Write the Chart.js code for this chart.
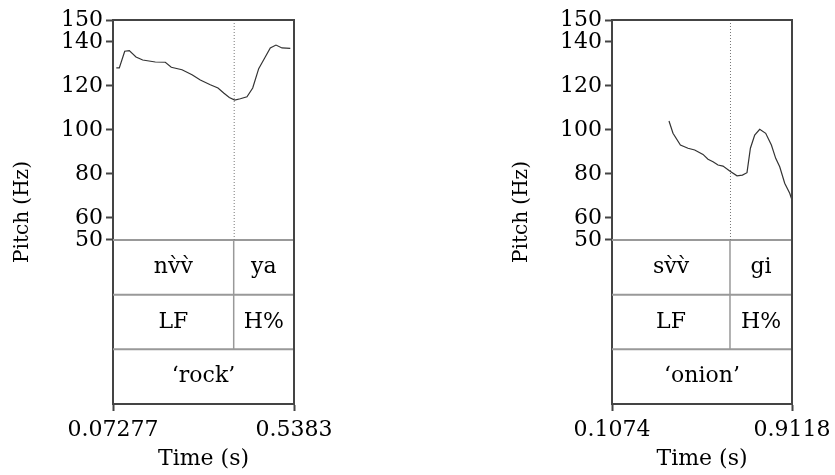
<!DOCTYPE html>
<html><head><meta charset="utf-8">
<script src="https://cdn.jsdelivr.net/npm/chart.js@4"></script>
<style>
html,body{margin:0;padding:0;background:#fff;width:835px;height:475px;overflow:hidden;position:relative}
.p{position:absolute;top:0;width:360px;height:475px}
</style></head>
<body>
<div class="p" style="left:0"><canvas id="c1" width="360" height="475"></canvas></div>
<div class="p" style="left:499px"><canvas id="c2" width="360" height="475"></canvas></div>
<script>
// ---- data ----
const pitchTicks = [50, 60, 80, 100, 120, 140, 150];
const pitchMax = 150;
const pitchFloor = 50;
const tierSpan = 24.85; // value-height of one annotation tier

const rockTimes = [0.0813, 0.0890, 0.1029, 0.1147, 0.1319, 0.1492, 0.1816, 0.2073, 0.2227, 0.2502, 0.2760, 0.2973, 0.3230, 0.3428, 0.3575, 0.3719, 0.3858, 0.4002, 0.4174, 0.4321, 0.4475, 0.4629, 0.4773, 0.4920, 0.5074, 0.5288];
const rockPitch = [128.2, 128.2, 135.8, 136.1, 133.2, 131.8, 130.9, 130.8, 128.5, 127.4, 125.1, 122.7, 120.6, 119.1, 116.8, 114.8, 113.6, 114.2, 115.1, 119.1, 127.9, 132.7, 137.3, 138.6, 137.3, 137.1];
const rockRange = [0.07277, 0.5383];
const rockTickLabels = ['0.07277', '0.5383'];
const rockBoundary = 0.3832;
const rockWords = ['nv\u0300v\u0300', 'ya'];
const rockTones = ['LF', 'H%'];
const rockGloss = '\u2018rock\u2019';

const onionTimes = [0.3621, 0.3800, 0.4131, 0.4470, 0.4770, 0.5141, 0.5364, 0.5588, 0.5811, 0.6035, 0.6334, 0.6660, 0.6901, 0.7107, 0.7259, 0.7451, 0.7675, 0.7943, 0.8197, 0.8390, 0.8569, 0.8792, 0.9016, 0.9118];
const onionPitch = [104.1, 98.5, 93.2, 91.7, 90.9, 88.9, 86.7, 85.6, 84.1, 83.6, 81.4, 79.2, 79.5, 80.6, 91.7, 97.7, 100.3, 98.5, 93.2, 87.1, 83.3, 75.8, 71.2, 68.2];
const onionRange = [0.1074, 0.9118];
const onionTickLabels = ['0.1074', '0.9118'];
const onionBoundary = 0.6347;
const onionWords = ['sv\u0300v\u0300', 'gi'];
const onionTones = ['LF', 'H%'];
const onionGloss = '\u2018onion\u2019';

// ---- drawing ----
const FONT = "'DejaVu Serif', serif";
Chart.defaults.font.family = FONT;
Chart.defaults.font.size = 22;
Chart.defaults.color = '#000';

const frameColor = '#444';
const tierColor = '#999';

const praatPlugin = {
  id: 'praat',
  afterDatasetsDraw(chart) {
    const cfg = chart.options.plugins.praat;
    const {ctx, chartArea: a} = chart;
    const x = chart.scales.x, y = chart.scales.y;
    const yAt = v => y.getPixelForValue(v);
    ctx.save();
    // horizontal tier separators
    ctx.strokeStyle = tierColor; ctx.lineWidth = 2;
    for (let i = 0; i < 3; i++) {
      const yy = yAt(pitchFloor - i * tierSpan);
      ctx.beginPath(); ctx.moveTo(a.left, yy); ctx.lineTo(a.right, yy); ctx.stroke();
    }
    const bx = x.getPixelForValue(cfg.boundary);
    // boundary in tiers 1-2
    ctx.lineWidth = 1.5;
    ctx.beginPath(); ctx.moveTo(bx, yAt(pitchFloor)); ctx.lineTo(bx, yAt(pitchFloor - 2 * tierSpan)); ctx.stroke();
    // dotted boundary in pitch area
    ctx.strokeStyle = '#777'; ctx.lineWidth = 1; ctx.setLineDash([1, 2]);
    ctx.beginPath(); ctx.moveTo(bx + 0.5, a.top); ctx.lineTo(bx + 0.5, yAt(pitchFloor)); ctx.stroke();
    ctx.setLineDash([]);
    // top & right frame
    ctx.strokeStyle = frameColor; ctx.lineWidth = 2;
    ctx.beginPath(); ctx.moveTo(a.left, a.top); ctx.lineTo(a.right, a.top); ctx.lineTo(a.right, a.bottom); ctx.stroke();
    // tier texts
    ctx.fillStyle = '#000';
    ctx.font = '22px ' + FONT;
    ctx.textAlign = 'center'; ctx.textBaseline = 'middle';
    const r0 = x.getPixelForValue(cfg.range[0]), r1 = x.getPixelForValue(cfg.range[1]);
    const t1 = yAt(pitchFloor - 0.5 * tierSpan), t2 = yAt(pitchFloor - 1.5 * tierSpan), t3 = yAt(pitchFloor - 2.5 * tierSpan);
    ctx.fillText(cfg.words[0], (r0 + bx) / 2, t1);
    ctx.fillText(cfg.words[1], (bx + r1) / 2, t1);
    ctx.fillText(cfg.tones[0], (r0 + bx) / 2, t2);
    ctx.fillText(cfg.tones[1], (bx + r1) / 2, t2);
    ctx.fillText(cfg.gloss, (r0 + r1) / 2, t3);
    ctx.restore();
  }
};

function makePanel(id, times, pitch, range, tickLabels, boundary, words, tones, gloss, padRight) {
  return new Chart(document.getElementById(id), {
    type: 'line',
    data: {
      datasets: [{
        data: times.map((t, i) => ({x: t, y: pitch[i]})),
        borderColor: '#333', borderWidth: 1.2, pointRadius: 0, tension: 0, fill: false
      }]
    },
    options: {
      responsive: false, animation: false, devicePixelRatio: 1,
      layout: {padding: {left: 0, right: padRight, top: 20, bottom: 0}},
      plugins: {
        legend: {display: false}, tooltip: {enabled: false},
        praat: {boundary, range, words, tones, gloss}
      },
      scales: {
        x: {
          type: 'linear', min: range[0], max: range[1],
          afterBuildTicks: s => { s.ticks = range.map(v => ({value: v})); },
          afterFit: s => { s.height = 71; },
          grid: {drawOnChartArea: false, drawTicks: true, tickLength: 7, tickWidth: 2, tickColor: frameColor},
          border: {display: true, color: frameColor, width: 2},
          ticks: {autoSkip: false, maxRotation: 0, padding: 6, color: '#000', callback: (v, i) => tickLabels[i]},
          title: {display: true, text: 'Time (s)', color: '#000', padding: {top: 0, bottom: 3}}
        },
        y: {
          type: 'linear', min: pitchFloor - 3 * tierSpan, max: pitchMax,
          afterBuildTicks: s => { s.ticks = pitchTicks.map(v => ({value: v})); },
          afterFit: s => { s.width = 113; },
          grid: {drawOnChartArea: false, drawTicks: true, tickLength: 7, tickWidth: 2, tickColor: frameColor},
          border: {display: true, color: frameColor, width: 2},
          ticks: {autoSkip: false, padding: 3, color: '#000'},
          title: {display: true, text: 'Pitch (Hz)', color: '#000', font: {size: 20}, padding: {top: 11, bottom: 0}}
        }
      }
    },
    plugins: [praatPlugin]
  });
}

makePanel('c1', rockTimes, rockPitch, rockRange, rockTickLabels, rockBoundary, rockWords, rockTones, rockGloss, 66);
makePanel('c2', onionTimes, onionPitch, onionRange, onionTickLabels, onionBoundary, onionWords, onionTones, onionGloss, 67);
</script>
</body></html>
